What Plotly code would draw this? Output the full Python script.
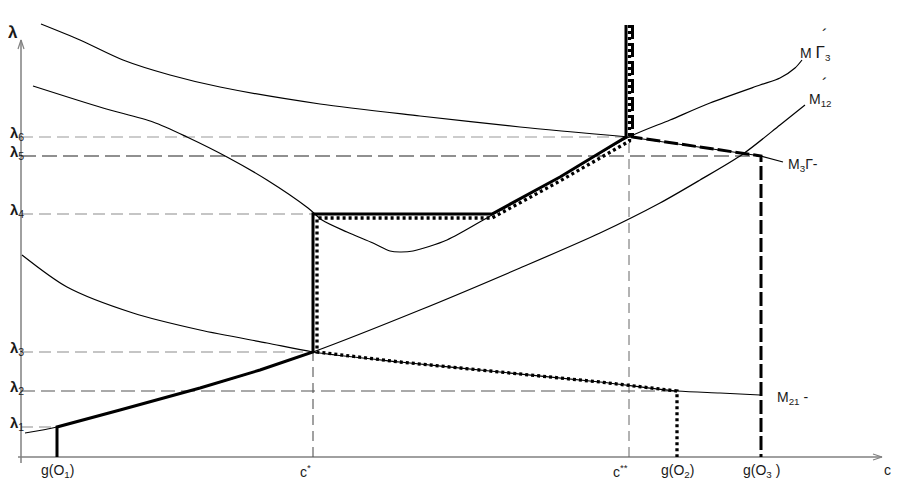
import numpy as np
import plotly.graph_objects as go

# levels marked on the axes (c measured from the lambda axis, lambda from the c axis)
lam_names = ["λ1", "λ2", "λ3", "λ4", "λ5", "λ6"]
lam_vals = [30, 66, 105, 243, 301, 320]
c_names = ["g(O1)", "c*", "c**", "g(O2)", "g(O3)"]
c_vals = [36, 292, 608, 656, 740]
lam_top = 432  # where the vertical branch at c** leaves the picture

# curves
m3g_c = [20, 59, 102, 149, 199, 299, 399, 499, 608, 740, 762]
m3g_lam = [433, 417, 397, 382, 370, 353, 341, 330, 320, 301, 295]

mg3_c = [12, 82, 132, 166, 206, 246, 287, 301, 326, 352, 369, 379, 392, 426,
         471, 539, 608, 649, 689, 739, 759, 774, 781]
mg3_lam = [371, 349, 335, 320, 300, 277, 249, 237, 225, 214, 206, 205, 206, 217,
           242, 280, 320, 337, 354, 372, 379, 389, 397]

m12_c = [4, 36, 99, 179, 239, 292, 399, 499, 579, 639, 679, 722, 759, 784]
m12_lam = [24, 30, 47, 69, 87, 105, 147, 189, 224, 254, 277, 303, 332, 352]

m21_c = [1, 46, 112, 179, 246, 292, 379, 479, 579, 656, 699, 739]
m21_lam = [202, 170, 144, 127, 114, 105, 95, 85, 75, 66, 64, 62]

g1, cs, css, g2, g3 = c_vals
l1, l2, l3, l4, l5, l6 = lam_vals

fig = go.Figure()


def line(x, y, color="black", width=1.2, dash="solid", shape="linear"):
    fig.add_trace(go.Scatter(x=list(x), y=list(y), mode="lines", hoverinfo="skip",
                             line=dict(color=color, width=width, dash=dash,
                                       shape=shape, smoothing=0.8)))


# axes with open arrow heads
axis_col = "#808080"
c_end, lam_end = 861, 417
line([-3, c_end], [0, 0], axis_col, 1.5)
line([0, 0], [-6, lam_end], axis_col, 1.5)
line([c_end - 9, c_end, c_end - 9], [3, 0, -3], axis_col, 1.2)
line([-3, 0, 3], [lam_end - 9, lam_end, lam_end - 9], axis_col, 1.2)

# thin dashed reference lines
ref_end = [g1, g2, cs, cs, g3, css]
ref_col = ["#8c8c8c", "#555555", "#8c8c8c", "#8c8c8c", "#222222", "#9a9a9a"]
ref_dash = ["12px,6px", "14px,6px", "12px,6px", "12px,6px", "15px,6px", "12px,6px"]
for lv, ce, col, d in zip(lam_vals, ref_end, ref_col, ref_dash):
    line([0, ce], [lv, lv], col, 1.1, d)
line([cs, cs], [0, l3], "#555555", 1.1, "10px,6px")
line([css, css], [0, l6], "#666666", 1.0, "10px,6px")

# thin curves
line(m3g_c[:9], m3g_lam[:9], shape="spline")
line(m3g_c[8:], m3g_lam[8:])
line(mg3_c, mg3_lam, shape="spline")
line(m12_c, m12_lam, shape="spline")
line(m21_c, m21_lam, shape="spline")

m12_c_a, m12_lam_a = np.array(m12_c), np.array(m12_lam)
mg3_c_a, mg3_lam_a = np.array(mg3_c), np.array(mg3_lam)
m21_c_a, m21_lam_a = np.array(m21_c), np.array(m21_lam)

# heavy solid path
k = (m12_c_a >= g1) & (m12_c_a <= cs)
u = (mg3_c_a > 471) & (mg3_c_a <= css)
sx = [g1] + list(m12_c_a[k]) + [cs, 471] + list(mg3_c_a[u][:-1]) + [css - 3, css - 3]
sy = [0] + list(m12_lam_a[k]) + [l4, l4] + list(mg3_lam_a[u][:-1]) + [l6, lam_top]
line(sx, sy, "black", 3)

# heavy dotted path
gap = 4
w = (m21_c_a > cs) & (m21_c_a <= g2)
dx = [css + 0.5, css + 0.5] + list(mg3_c_a[u][::-1][1:]) + [471, cs + gap, cs + gap] + list(m21_c_a[w]) + [g2]
dy = [lam_top, l6 - gap] + list(mg3_lam_a[u][::-1][1:] - gap) + [l4 - gap, l4 - gap, l3] + list(m21_lam_a[w]) + [0]
line(dx, dy, "black", 3.3, "3px,3px")

# heavy dashed path
line([css + 3.5, css + 3.5, g3, g3], [lam_top, l6, l5, 0], "black", 3, "14px,4px")

# text
txt = "#1a1a1a"
fnt = "Liberation Sans, Arial, sans-serif"


def label(x, y, text, size=14, xa="center", ya="middle", xs=0, ys=0):
    fig.add_annotation(x=x, y=y, text=text, showarrow=False, xanchor=xa, yanchor=ya,
                       xshift=xs, yshift=ys, font=dict(family=fnt, size=size, color=txt))


label(-8, 425, "<b>λ</b>", 17)
for name, lv in zip(lam_names, lam_vals):
    label(-13, lv, "<b>λ</b><sub>%s</sub>" % name[1:], 15, xa="left", ys=4)

c_text = ["g(O<sub>1</sub>)", "c<sup>*</sup>", "c<sup>**</sup>", "g(O<sub>2</sub>)", "g(O<sub>3</sub> )"]
c_shift = [0, -8, -9, 0, 0]
for ct, cv, xs in zip(c_text, c_vals, c_shift):
    label(cv, -3, ct, 14, ya="top", xs=xs)
label(c_end + 5, -3, "c", 14, ya="top")

label(777, 410, "M <span style='font-size:17px'>Γ</span><sub>3</sub>", 14, xa="left", ys=-6)
label(804, 422, "´", 17)
label(786, 357, "M<sub>12</sub>", 14, xa="left")
label(804, 373, "´", 17)
label(765, 295, "M<sub>3</sub>Γ-", 14, xa="left", ys=-3)
label(754, 62, "M<sub>21</sub> -", 14, xa="left", ys=-3)

# the page puts an 8px body margin round the plot, so the ranges are moved by that much
fig.update_layout(
    width=899, height=484,
    margin=dict(l=0, r=0, t=0, b=0),
    paper_bgcolor="white", plot_bgcolor="white",
    showlegend=False,
    xaxis=dict(range=[-13, 886], visible=False, fixedrange=True),
    yaxis=dict(range=[-35, 449], visible=False, fixedrange=True),
)

fig.write_html("out.html")
